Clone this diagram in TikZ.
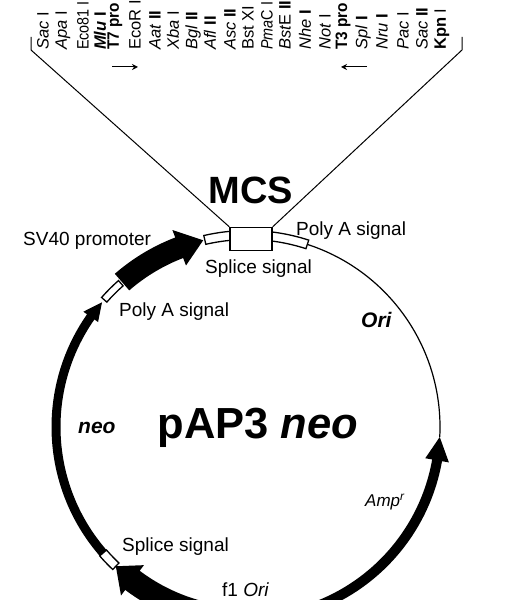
\documentclass[tikz,border=0pt]{standalone}
\usepackage{fontspec}
\setmainfont{Liberation Sans}
\usepackage{tikz}
\usetikzlibrary{arrows.meta}
\newcommand{\pxf}[1]{\fontsize{#1}{#1}\selectfont}
\newcommand{\nar}[1]{\scalebox{0.87}[1]{#1}}
\newcommand{\plasmidsector}[4]{% a0 a1 halfwidth style
  \pgfmathsetmacro{\ro}{192+#3}\pgfmathsetmacro{\ri}{192-#3}
  \path[#4] (#1:\ro) arc[start angle=#1,end angle=#2,radius=\ro] -- (#2:\ri) arc[start angle=#2,end angle=#1,radius=\ri] -- cycle;}
\newcommand{\plasmidarrow}[6]{% tail, headbase, tip, shaft half, head half, tip radius
  \pgfmathsetmacro{\ro}{192+#4}\pgfmathsetmacro{\ri}{192-#4}
  \pgfmathsetmacro{\ho}{192+#5}\pgfmathsetmacro{\hi}{192-#5}
  \fill[black] (#1:\ro) arc[start angle=#1,end angle=#2,radius=\ro] -- (#2:\ho) -- (#3:#6) -- (#2:\hi) -- (#2:\ri) arc[start angle=#2,end angle=#1,radius=\ri] -- cycle;}
\tikzset{
  enz/.style={rotate=90,anchor=west,inner sep=0pt,font=\pxf{16.5}},
  lab/.style={inner sep=0pt,anchor=base west,font=\pxf{19}},
  backbone/.style={line width=1.2pt},
  whitebox/.style={draw=black,fill=white,line width=1.3pt},
  fan/.style={line width=1pt},
}
\begin{document}
\begin{tikzpicture}[x=1pt,y=1pt]
\useasboundingbox (0,0) rectangle (507,600);
\clip (0,0) rectangle (507,600);
% enzyme list
\foreach \xx/\txt in {43/\textit{Sac} I,63/\textit{Apa} I,83/\nar{Eco81 I},100/\textbf{\textit{Mlu} I},115/\scalebox{0.93}[1]{\textbf{T7 pro}},135/EcoR I,155/\textit{Aat} \textbf{II},173/\textit{Xba} I,193/\textit{Bgl} \textbf{II},210/\textit{Afl} \textbf{II},230/\textit{Asc} \textbf{II},248/Bst XI,267/\nar{\textit{Pma}C I},285/\textit{Bst}E \textbf{II},305/\textit{Nhe} \textbf{I},325/\textit{Not} I,343/\scalebox{0.93}[1]{\textbf{T3 pro}},363/\textit{Spl} \textbf{I},382/\textit{Nru} \textbf{I},403/\textit{Pac} I,422/\textit{Sac} \textbf{II},442/\textbf{Kpn} I}
  \node[enz] at (\xx,550) {\txt};
% direction arrows
\coordinate (t7a) at (112,533); \coordinate (t7b) at (138,533);
\coordinate (t3a) at (367,533); \coordinate (t3b) at (341,533);
\draw[line width=1pt,-{Stealth[length=6pt,width=6pt]}] (t7a) -- (t7b);
\draw[line width=1pt,-{Stealth[length=6pt,width=6pt]}] (t3a) -- (t3b);
% plasmid
\begin{scope}[shift={(248,173)}]
  \draw[backbone] (72:192) arc[start angle=72,end angle=-3,radius=192];
  \plasmidsector{103}{90}{4.5}{whitebox}
  \plasmidsector{72}{90}{4.5}{whitebox}
  \plasmidarrow{131}{111}{103.5}{11}{19}{192}
  \plasmidsector{138.5}{131.5}{3.5}{whitebox}
  \plasmidarrow{222}{145}{139.5}{4.5}{9}{192}
  \plasmidsector{226.5}{221}{4.5}{whitebox}
  \plasmidarrow{270}{233}{226.5}{12}{19}{192}
  \plasmidarrow{-70}{-10}{-3}{5}{12}{192}
\end{scope}
% MCS box and fan
\node[draw=black,fill=white,line width=1.3pt,minimum width=42pt,minimum height=23pt,inner sep=0pt] (mcsbox) at (251,361) {};
\coordinate (fl1) at (31,550); \coordinate (fl2) at (31,563);
\coordinate (fr1) at (462,550); \coordinate (fr2) at (462,563);
\draw[fan] (mcsbox.north west) -- (fl1) -- (fl2);
\draw[fan] (mcsbox.north east) -- (fr1) -- (fr2);
% labels
\node[inner sep=0pt,font=\pxf{38}\bfseries] (mcs) at (251,410) {MCS};
\node[inner sep=0pt,anchor=base,font=\pxf{43.5}\bfseries] (title) at (258,161) {pAP3 \textit{neo}};
\node[lab] (sv) at (23,354) {SV40 promoter};
\node[lab] (pa1) at (296,364) {Poly A signal};
\node[lab] (ss1) at (205,326) {Splice signal};
\node[lab] (pa2) at (119,283) {Poly A signal};
\node[lab,font=\pxf{21}\bfseries\itshape] (ori) at (361,272) {Ori};
\node[lab,font=\pxf{21}\bfseries\itshape] (neo) at (78,166) {neo};
\node[lab,font=\pxf{17}\itshape] (amp) at (365,93) {Amp\textsuperscript{r}};
\node[lab] (ss2) at (122,48) {Splice signal};
\node[lab] (f1) at (222,4) {f1 \textit{Ori}};
\end{tikzpicture}
\end{document}
